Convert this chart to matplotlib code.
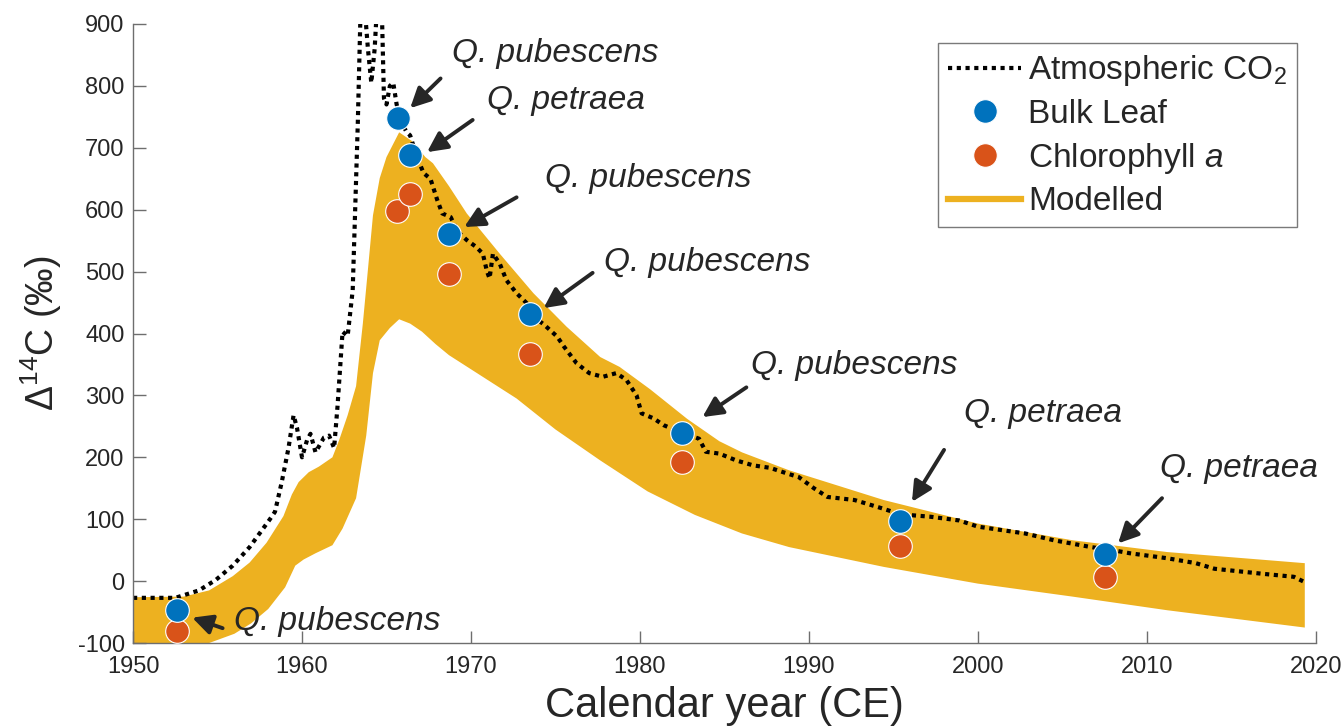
import numpy as np
import matplotlib
matplotlib.use("Agg")
import matplotlib.pyplot as plt
from matplotlib.lines import Line2D

plt.rcParams['font.family'] = ['Liberation Sans', 'DejaVu Sans']
plt.rcParams['mathtext.fontset'] = 'custom'
plt.rcParams['mathtext.rm'] = 'Liberation Sans'
plt.rcParams['mathtext.it'] = 'Liberation Sans:italic'
plt.rcParams['axes.unicode_minus'] = False

# atmospheric CO2 D14C
atm_year = [1950, 1952.5, 1953.9, 1954.9, 1955.9, 1956.9, 1958.1, 1958.4, 1958.8, 1959.2,
            1959.5, 1959.7, 1960.0, 1960.3, 1960.5, 1960.8, 1961.3, 1961.6, 1961.9, 1962.1,
            1962.4, 1962.7, 1963.0, 1963.3, 1963.5, 1963.7, 1963.9, 1964.1, 1964.3, 1964.5,
            1964.7, 1964.85, 1965.0, 1965.2, 1965.4, 1965.6, 1965.9, 1966.2, 1966.4, 1966.8,
            1967.2, 1967.6, 1968.0, 1968.3, 1968.8, 1969.2, 1969.75, 1970.3, 1970.7, 1970.95,
            1971.1, 1971.3, 1971.7, 1972.1, 1972.7, 1973.3, 1973.8, 1974.3, 1974.7, 1975.1,
            1975.5, 1976.25, 1977.0, 1977.8, 1978.6, 1979.2, 1979.8, 1980.1, 1980.8, 1981.4,
            1982.0, 1982.5, 1983.5, 1983.9, 1984.7, 1985.7, 1986.7, 1987.7, 1988.7, 1989.4,
            1990.3, 1991.1, 1992.7, 1994.4, 1995.4, 1997.2, 1998.9, 2000.0, 2002.8, 2004.5,
            2006.7, 2008.0, 2009.0, 2011.2, 2012.9, 2014.0, 2016.8, 2018.7, 2019.3]
atm_d14c = [-27, -27, -15, 2, 25, 55, 100, 112, 160, 215,
            268, 248, 200, 228, 238, 208, 232, 235, 215, 282,
            403, 396, 470, 738, 960, 930, 860, 805, 860, 960,
            950, 780, 770, 800, 805, 770, 740, 725, 720, 685,
            659, 650, 616, 594, 588, 565, 551, 540, 529, 500,
            489, 529, 513, 486, 465, 449, 425, 415, 405, 395,
            379, 352, 336, 330, 336, 325, 300, 271, 263, 252,
            245, 240, 230, 209, 206, 195, 187, 183, 174, 168,
            150, 136, 131, 117, 108, 104, 98, 88, 77, 66,
            55, 50, 45, 37, 29, 20, 12, 7, -1]

# modelled envelope
up_year = [1950, 1953, 1954.5, 1955.9, 1956.9, 1957.9, 1958.9, 1959.4, 1959.8, 1960.4,
           1961.0, 1961.8, 1962.2, 1962.7, 1963.2, 1963.6, 1963.9, 1964.2, 1964.6, 1965.0,
           1965.75, 1966.5, 1967.3, 1967.75, 1968.7, 1969.75, 1971.7, 1973.7, 1975.66, 1977.65,
           1978.8, 1980.6, 1982.8, 1984.7, 1986.04, 1988.83, 1994.43, 2000.0, 2005.6, 2011.2,
           2019.35]
up_d14c = [-26, -25, -15, 8, 30, 62, 105, 140, 160, 176,
           185, 200, 228, 268, 315, 416, 503, 591, 651, 685,
           725, 711, 685, 675, 638, 594, 529, 465, 411, 362,
           346, 310, 262, 226, 208, 179, 131, 93, 66, 47,
           29]
lo_year = [1950, 1952, 1954.0, 1955.0, 1956.0, 1957.0, 1958.0, 1959.0, 1959.6, 1960.1,
           1960.8, 1961.8, 1962.4, 1963.2, 1963.8, 1964.2, 1964.6, 1965.2, 1965.75, 1966.4,
           1967.1, 1967.9, 1968.7, 1970.7, 1972.7, 1975.0, 1977.65, 1980.45, 1983.25, 1986.04,
           1988.83, 1994.43, 2000.0, 2005.6, 2011.2, 2019.35]
lo_d14c = [-135, -125, -105, -95, -85, -68, -45, -10, 25, 35,
           45, 58, 85, 134, 235, 336, 389, 409, 423, 416,
           403, 383, 365, 330, 295, 245, 195, 145, 107, 77,
           55, 23, -4, -25, -47, -75]

# leaf samples
samp_year = [1952.6, 1965.7, 1966.4, 1968.7, 1973.5, 1982.5, 1995.4, 2007.5]
bulk_leaf = [-47, 748, 688, 561, 431, 239, 97, 44]
chl_year = [1952.6, 1965.6, 1966.4, 1968.7, 1973.5, 1982.5, 1995.4, 2007.5]
chl_a = [-80, 598, 625, 496, 367, 192, 57, 6]

# species labels: text position, arrow tail, arrow head
species = ['Q. pubescens', 'Q. petraea', 'Q. pubescens', 'Q. pubescens',
           'Q. pubescens', 'Q. petraea', 'Q. petraea', 'Q. pubescens']
text_pos = [(1968.9, 853), (1970.95, 777), (1974.4, 651), (1977.9, 514),
            (1986.6, 349), (1999.2, 271), (2010.8, 182), (1956.0, -66)]
arrow_tail = [(1968.2, 812), (1970.1, 745), (1972.7, 620), (1977.2, 498),
              (1986.3, 313), (1998.0, 212), (2010.9, 134), (1955.3, -76)]
arrow_head = [(1966.4, 764), (1967.4, 693), (1969.6, 572), (1974.3, 441),
              (1983.7, 265), (1996.1, 128), (2008.3, 61), (1953.5, -59)]

BLUE = '#0072BD'
RED = '#D95319'
GOLD = '#EDB120'
INK = '#262626'
DOTS = (0, (1, 1.1))

fig = plt.figure(figsize=(13.44, 7.27), dpi=100)
ax = fig.add_axes([0.099, 0.1155, 0.880, 0.8515])

ax.fill(np.r_[up_year, lo_year[::-1]], np.r_[up_d14c, lo_d14c[::-1]],
        color=GOLD, lw=0, zorder=1)
ax.plot(atm_year, atm_d14c, color='black', lw=3.0, ls=DOTS,
        dash_capstyle='butt', zorder=2)
ax.plot(samp_year, bulk_leaf, 'o', ms=17, mfc=BLUE, mec='white', mew=0.8, zorder=4)
ax.plot(chl_year, chl_a, 'o', ms=17, mfc=RED, mec='white', mew=0.8, zorder=3)

for name, tp, tail, head in zip(species, text_pos, arrow_tail, arrow_head):
    ax.annotate('', xy=head, xytext=tail,
                arrowprops=dict(arrowstyle='-|>', color=INK, lw=2.8,
                                mutation_scale=30, shrinkA=0, shrinkB=0),
                zorder=5)
    ax.text(tp[0], tp[1], name, style='italic', fontsize=24, color=INK,
            ha='left', va='center', zorder=5)

ax.set_xlim(1950, 2020)
ax.set_ylim(-100, 900)
ax.set_xticks(np.arange(1950, 2021, 10))
ax.set_yticks(np.arange(-100, 901, 100))
for s in ['top', 'right']:
    ax.spines[s].set_visible(False)
for s in ['left', 'bottom']:
    ax.spines[s].set_color('#6e6e6e')
    ax.spines[s].set_linewidth(1.0)
ax.tick_params(direction='in', length=9, width=1.0, color='#6e6e6e',
               labelsize=17, labelcolor=INK)
ax.tick_params(axis='x', pad=9)
ax.tick_params(axis='y', pad=6)

ax.set_xlabel('Calendar year (CE)', fontsize=30, color=INK, labelpad=6)
ax.set_ylabel(r'$\Delta^{14}$C (‰)', fontsize=27, color=INK, labelpad=10)

handles = [
    Line2D([], [], color='black', lw=3.0, ls=DOTS),
    Line2D([], [], ls='none', marker='o', ms=17, mfc=BLUE, mec='white', mew=0.8),
    Line2D([], [], ls='none', marker='o', ms=17, mfc=RED, mec='white', mew=0.8),
    Line2D([], [], color=GOLD, lw=4.5),
]
labels = [r'Atmospheric CO$_2$', 'Bulk Leaf', r'Chlorophyll $\mathit{a}$', 'Modelled']
leg = ax.legend(handles, labels, loc='upper right', bbox_to_anchor=(0.984, 0.969),
                fontsize=24, frameon=True, fancybox=False, framealpha=1,
                edgecolor='#7a7a7a', borderpad=0.3, handlelength=2.2,
                handletextpad=0.2, labelspacing=0.32, borderaxespad=0)
leg.get_frame().set_linewidth(1.0)
for t in leg.get_texts():
    t.set_color(INK)

fig.savefig('out.png', dpi=100)
